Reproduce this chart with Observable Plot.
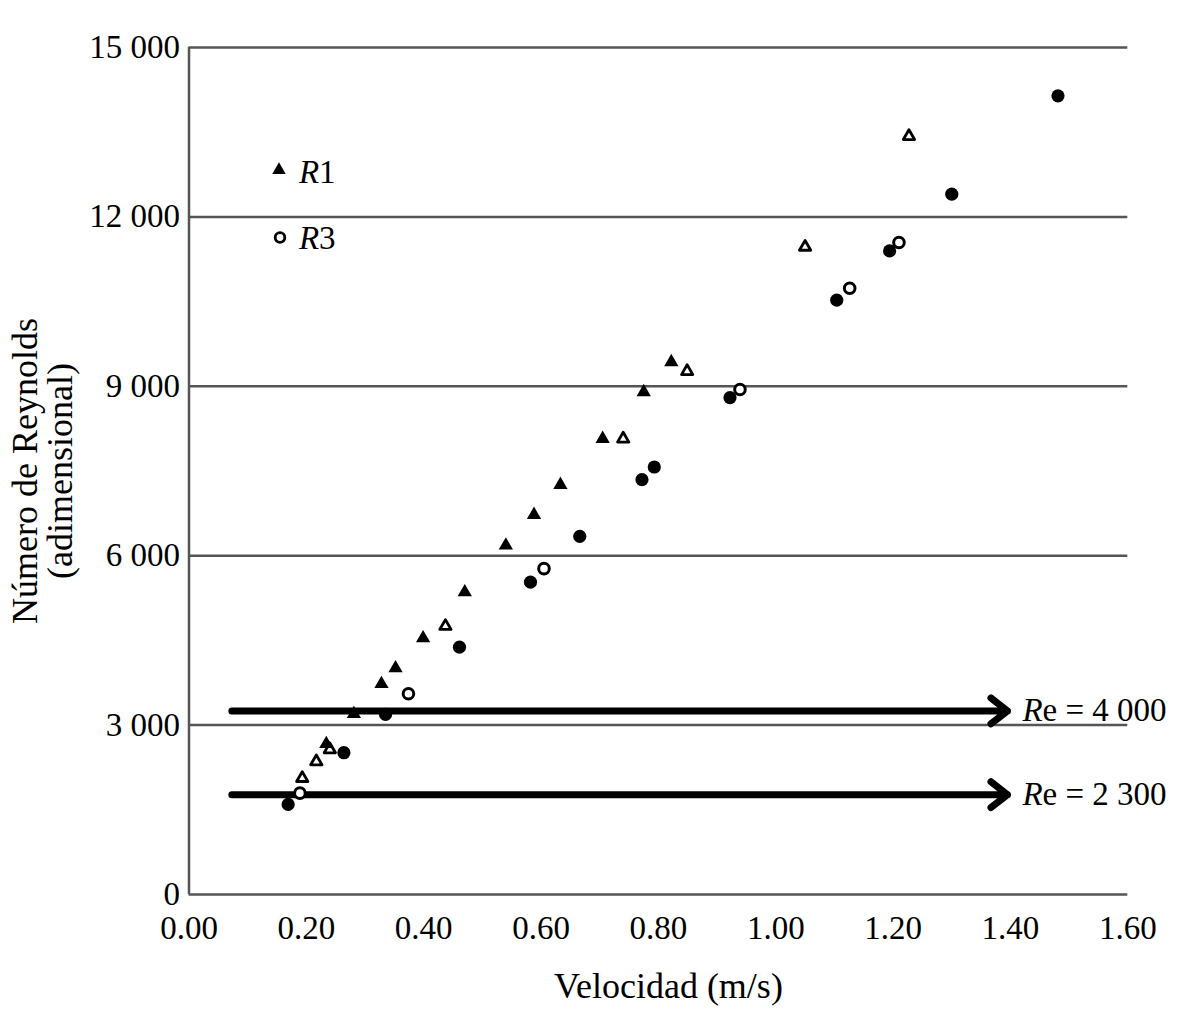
<!DOCTYPE html>
<html>
<head>
<meta charset="utf-8">
<script src="https://cdn.jsdelivr.net/npm/d3@7"></script>
<script src="https://cdn.jsdelivr.net/npm/@observablehq/plot@0.6"></script>
<style>
  html, body { margin: 0; padding: 0; background: #fff; }
  #chart svg { display: block; }
</style>
</head>
<body>
<div id="chart"></div>
<script>
// ---- Axis ticks ----
const xTicks = [0, 0.2, 0.4, 0.6, 0.8, 1.0, 1.2, 1.4, 1.6];
const xTickLabels = ["0.00", "0.20", "0.40", "0.60", "0.80", "1.00", "1.20", "1.40", "1.60"];
const yTicks = [0, 3000, 6000, 9000, 12000, 15000];
const yTickLabels = ["0", "3 000", "6 000", "9 000", "12 000", "15 000"];

const xTitle = "Velocidad (m/s)";
const yTitle = "Número de Reynolds\n(adimensional)";

// ---- Series (velocity m/s, Reynolds number) ----
// R1: filled triangles
const r1V  = [0.234, 0.281, 0.328, 0.352, 0.399, 0.470, 0.540, 0.588, 0.633, 0.705, 0.775, 0.822];
const r1Re = [2667, 3198, 3730, 4008, 4539, 5354, 6182, 6724, 7256, 8070, 8898, 9430];
// open triangles
const r2V  = [0.193, 0.217, 0.240, 0.437, 0.740, 0.849, 1.050, 1.227];
const r2Re = [2059, 2355, 2567, 4752, 8070, 9265, 11467, 13428];
// filled circles
const r4V  = [0.169, 0.264, 0.335, 0.461, 0.582, 0.666, 0.772, 0.793, 0.922, 1.104, 1.194, 1.300, 1.481];
const r4Re = [1595, 2511, 3189, 4380, 5532, 6343, 7347, 7571, 8800, 10525, 11398, 12403, 14144];
// R3: open circles
const r3V  = [0.189, 0.374, 0.605, 0.939, 1.126, 1.210];
const r3Re = [1795, 3556, 5771, 8944, 10737, 11547];

// ---- Reference arrows (Re thresholds) ----
const arrowLabels = ["Re = 4 000", "Re = 2 300"];
const arrowY  = [3251, 1768];
const arrowX1 = [0.073, 0.073];
const arrowX2 = [1.395, 1.395];

// ---- Legend ----
const legendLabels = ["R1", "R3"];

const pts = (xs, ys) => xs.map((x, i) => ({x, y: ys[i]}));
const arrows = arrowLabels.map((label, i) => ({label, y: arrowY[i], x1: arrowX1[i], x2: arrowX2[i]}));

const FONT = "'Liberation Serif', 'Times New Roman', serif";
const GRID = "#555";

const marks = [
  Plot.ruleY(yTicks, {stroke: GRID, strokeWidth: 2.5}),
  Plot.ruleX([0], {stroke: GRID, strokeWidth: 2.5}),
  Plot.axisY(yTicks, {
    tickSize: 0, tickPadding: 9, fontSize: 33, label: null,
    tickFormat: d => yTickLabels[yTicks.indexOf(d)]
  }),
  Plot.axisX(xTicks, {
    tickSize: 0, tickPadding: 21, fontSize: 33, label: null,
    tickFormat: d => xTickLabels[xTicks.indexOf(d)]
  }),
  // axis titles
  Plot.text([xTitle], {text: d => d, frameAnchor: "bottom", textAnchor: "middle", dx: 10, dy: 92, fontSize: 36, lineAnchor: "middle"}),
  Plot.text([yTitle], {text: d => d, frameAnchor: "left", textAnchor: "middle", rotate: -90, dx: -146, dy: 0, fontSize: 36, lineHeight: 0.97, lineAnchor: "middle"}),
  // arrows
  Plot.arrow(arrows, {x1: "x1", x2: "x2", y1: "y", y2: "y", stroke: "black", strokeWidth: 7, headLength: 4.5, headAngle: 76}),
  Plot.text(arrows, {x: "x2", y: "y", text: d => d.label[0], fontStyle: "italic", textAnchor: "start", dx: 15, fontSize: 33, lineAnchor: "middle"}),
  Plot.text(arrows, {x: "x2", y: "y", text: d => d.label.slice(1), textAnchor: "start", dx: 35, fontSize: 33, lineAnchor: "middle"}),
  // data
  Plot.dot(pts(r4V, r4Re), {x: "x", y: "y", r: 6.6, fill: "black", stroke: "none"}),
  Plot.dot(pts(r3V, r3Re), {x: "x", y: "y", r: 5.3, fill: "white", stroke: "black", strokeWidth: 3}),
  Plot.dot(pts(r2V, r2Re), {x: "x", y: "y", symbol: "triangle", r: 4.2, fill: "white", stroke: "black", strokeWidth: 2.8, strokeLinejoin: "round"}),
  Plot.dot(pts(r1V, r1Re), {x: "x", y: "y", symbol: "triangle", r: 5.3, fill: "black", stroke: "none"}),
  // legend
  Plot.dot([legendLabels[0]], {frameAnchor: "top-left", dx: 90, dy: 122.5, symbol: "triangle", r: 5, fill: "black", stroke: "none"}),
  Plot.dot([legendLabels[1]], {frameAnchor: "top-left", dx: 91, dy: 190, r: 4.8, fill: "white", stroke: "black", strokeWidth: 2.8}),
  Plot.text([legendLabels[0]], {frameAnchor: "top-left", dx: 110, dy: 125, text: d => d[0], fontStyle: "italic", textAnchor: "start", fontSize: 33, lineAnchor: "middle"}),
  Plot.text([legendLabels[0]], {frameAnchor: "top-left", dx: 130, dy: 125, text: d => d.slice(1), textAnchor: "start", fontSize: 33, lineAnchor: "middle"}),
  Plot.text([legendLabels[1]], {frameAnchor: "top-left", dx: 110, dy: 190.5, text: d => d[0], fontStyle: "italic", textAnchor: "start", fontSize: 33, lineAnchor: "middle"}),
  Plot.text([legendLabels[1]], {frameAnchor: "top-left", dx: 130, dy: 190.5, text: d => d.slice(1), textAnchor: "start", fontSize: 33, lineAnchor: "middle"})
];

const chart = Plot.plot({
  width: 1181,
  height: 1015,
  marginLeft: 188.5,
  marginRight: 53.7,
  marginTop: 47,
  marginBottom: 121,
  x: {domain: [0, 1.6]},
  y: {domain: [0, 15000]},
  style: {fontFamily: FONT, fontSize: "33px", background: "white", color: "black"},
  marks
});
document.getElementById("chart").appendChild(chart);
</script>
</body>
</html>
